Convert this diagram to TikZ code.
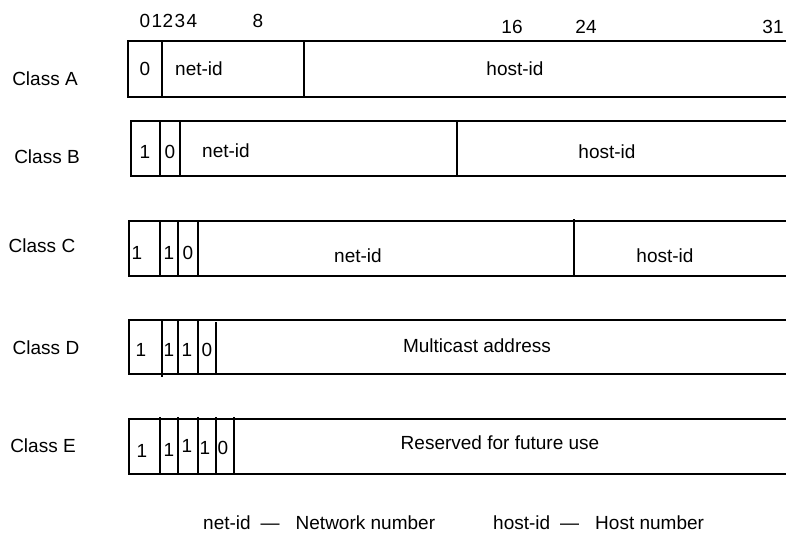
\documentclass[tikz,border=0pt]{standalone}
\usepackage{fontspec}
\setmainfont{Liberation Sans}
\usetikzlibrary{positioning}

\begin{document}
\begin{tikzpicture}[x=1pt,y=-1pt,
 frame/.style={line width=1.6pt},
 txt/.style={inner sep=0pt,font=\fontsize{19}{22}\selectfont},
 bit/.style={txt}]
\useasboundingbox (0,0) rectangle (786,540);

% bit positions
\foreach \n/\x in {0/145,1/157,2/168,3/180,4/192,8/258}
  \node[bit] (top\n) at (\x,21) {\n};
\foreach \n/\x in {16/512,24/586,31/773}
  \node[bit] (top\n) at (\x,27) {\n};

% class labels
\node[txt] (classA) at (45,79) {Class A};
\node[txt] (classB) at (47,157) {Class B};
\node[txt] (classC) at (42,246) {Class C};
\node[txt] (classD) at (46,348) {Class D};
\node[txt] (classE) at (43,446) {Class E};

% Class A
\draw[frame] (786,41) -- (128,41) -- (128,97) -- (786,97);
\foreach \x in {162,304} \draw[frame] (\x,41) -- (\x,97);
\node[txt] (a0) at (145,69) {0};
\node[txt] (anet) at (199,69) {net-id};
\node[txt] (ahost) at (515,69) {host-id};

% Class B
\draw[frame] (786,121) -- (131,121) -- (131,176) -- (786,176);
\foreach \x in {160,180,457} \draw[frame] (\x,121) -- (\x,176);
\node[txt] (b1) at (145,152) {1};
\node[txt] (b0) at (170,152) {0};
\node[txt] (bnet) at (226,151) {net-id};
\node[txt] (bhost) at (607,152) {host-id};

% Class C
\draw[frame] (786,221) -- (129,221) -- (129,276) -- (786,276);
\foreach \x in {160,178,198} \draw[frame] (\x,221) -- (\x,277);
\draw[frame] (574,219) -- (574,276);
\node[txt] (c1) at (137,253) {1};
\node[txt] (c2) at (169,253) {1};
\node[txt] (c0) at (188,253) {0};
\node[txt] (cnet) at (358,256) {net-id};
\node[txt] (chost) at (665,256) {host-id};

% Class D
\draw[frame] (786,320) -- (129,320) -- (129,374) -- (786,374);
\draw[frame] (162,320) -- (162,377);
\foreach \x in {178,198} \draw[frame] (\x,320) -- (\x,374);
\draw[frame] (216,322) -- (216,374);
\node[txt] (d1) at (141,350) {1};
\node[txt] (d2) at (169,350) {1};
\node[txt] (d3) at (187,350) {1};
\node[txt] (d0) at (207,350) {0};
\node[txt] (dmc) at (477,346) {Multicast address};

% Class E
\draw[frame] (786,419) -- (129,419) -- (129,474) -- (786,474);
\foreach \x in {160,178,198,216,234} \draw[frame] (\x,417) -- (\x,474);
\node[txt] (e1) at (142,451) {1};
\node[txt] (e2) at (169,450) {1};
\node[txt] (e3) at (187,446) {1};
\node[txt] (e4) at (205,448) {1};
\node[txt] (e0) at (223,448) {0};
\node[txt] (eres) at (500,443) {Reserved for future use};

% legend
\node[txt,anchor=west] (netkey) at (203,523) {net-id\hspace{10pt}—\hspace{16pt}Network number};
\node[txt,anchor=west] (hostkey) at (493,523) {host-id\hspace{10pt}—\hspace{16pt}Host number};
\end{tikzpicture}
\end{document}
